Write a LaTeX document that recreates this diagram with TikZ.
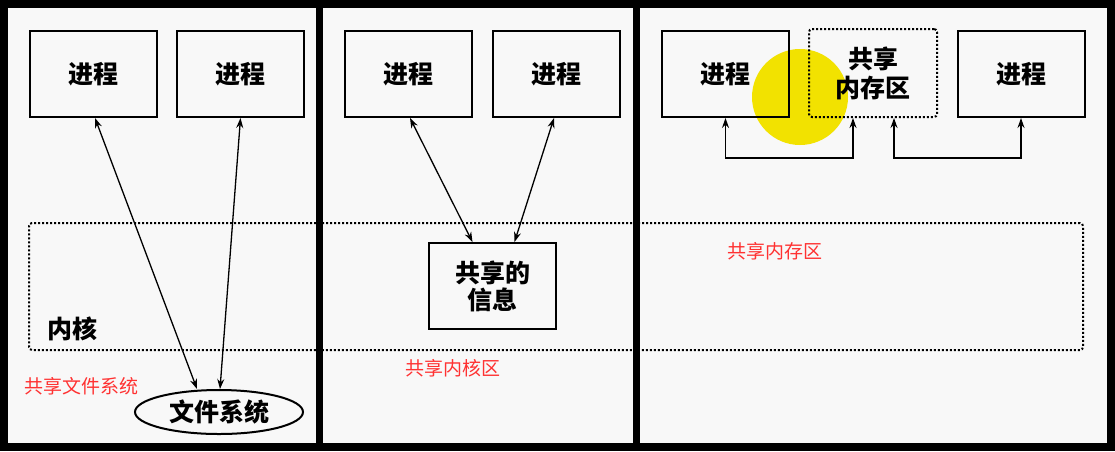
\documentclass[tikz,border=0pt]{standalone}
\usepackage{fontspec}
\newfontfamily\cjk{Noto Sans CJK SC}
\usetikzlibrary{shapes.geometric,arrows.meta}
\definecolor{bgray}{RGB}{248,248,248}
\definecolor{redtxt}{RGB}{255,50,50}
\definecolor{spot}{RGB}{242,226,0}
\begin{document}
\begin{tikzpicture}[x=1pt,y=-1pt,>={Stealth[length=10pt,width=7pt]},
	proc/.style={draw,line width=2pt,minimum width=127pt,minimum height=86pt,font=\cjk\bfseries\fontsize{25}{27}\selectfont,align=center},
	dotbox/.style={draw,line width=2pt,dash pattern=on 2pt off 2pt,rounded corners=3pt},
	note/.style={text=redtxt,font=\cjk\fontsize{19}{21}\selectfont,inner sep=0pt},
	link/.style={<->,line width=1.3pt}]
	\useasboundingbox (0,0) rectangle (1115,451);
	\fill[bgray] (0,0) rectangle (1115,451);
	\fill[spot] (800,97) circle (48);
	% kernel strip
	\node[dotbox,minimum width=1054pt,minimum height=127pt] (kern) at (556,286.5) {};
	\node[font=\cjk\bfseries\fontsize{25}{27}\selectfont,inner sep=0pt] (kernl) at (72,329) {内核};
	\foreach \n/\x in {p1/93.5,p2/240.5,p3/408.5,p4/556,p5/725.5,p6/1021}
		\node[proc] (\n) at (\x,74) {进程};
	\node[proc] (info) at (492.5,286) {共享的\\信息};
	\node[proc,dotbox,minimum width=128pt,minimum height=88pt,font=\cjk\bfseries\fontsize{25}{29}\selectfont] (shm) at (873,73) {共享\\内存区};
	\node[draw,ellipse,line width=2pt,minimum width=168pt,minimum height=44pt,font=\cjk\bfseries\fontsize{25}{27}\selectfont] (fs) at (219,412) {文件系统};
	% connectors
	\draw[link] ([xshift=1.5pt]p1.south) -- ([xshift=-22pt]fs.north);
	\draw[link] (p2.south) -- ([xshift=1pt]fs.north);
	\draw[link] ([xshift=1.5pt]p3.south) -- ([xshift=-20pt]info.north);
	\draw[link] ([xshift=-2pt]p4.south) -- ([xshift=22pt]info.north);
	\draw[link] (p5.south) -- ++(0,40) -| ([xshift=-20pt]shm.south);
	\draw[link] ([xshift=21pt]shm.south) -- ++(0,40) -| (p6.south);
	% red notes
	\node[note] (n1) at (81,386) {共享文件系统};
	\node[note] (n2) at (453,368) {共享内核区};
	\node[note] (n3) at (775,251) {共享内存区};
	% frame and dividers
	\draw[line width=8pt] (4,4) rectangle (1111,447);
	\draw[line width=7pt] (319,0) -- (319,451) (636.5,0) -- (636.5,451);
\end{tikzpicture}
\end{document}
